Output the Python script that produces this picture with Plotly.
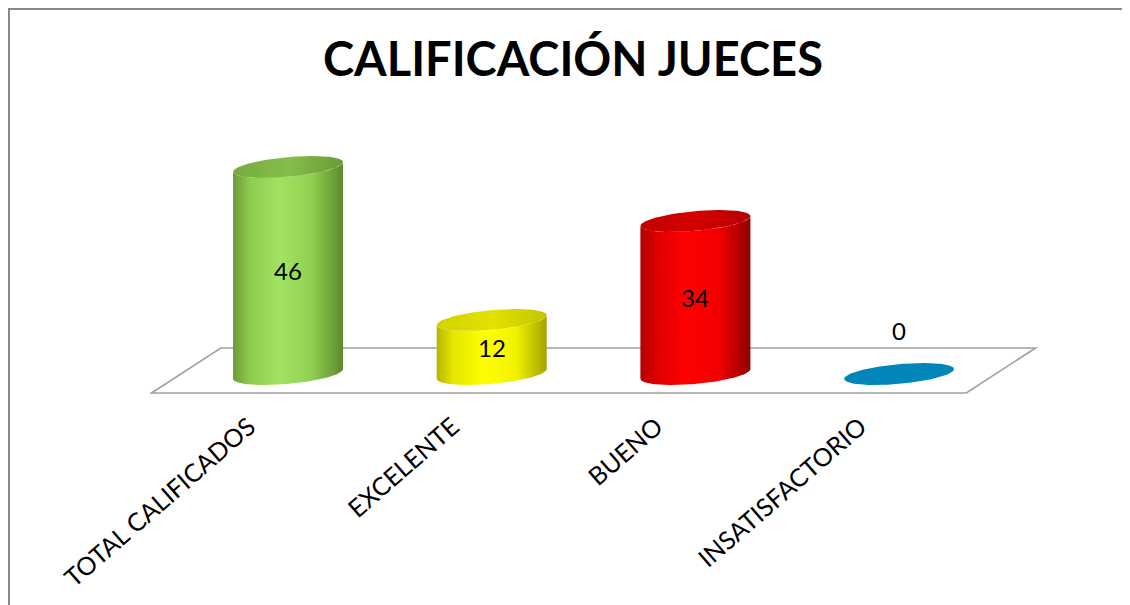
import numpy as np
import plotly.graph_objects as go

# ---------------- data ----------------
categories = ["TOTAL CALIFICADOS", "EXCELENTE", "BUENO", "INSATISFACTORIO"]
values = [46, 12, 34, 0]
title_text = "CALIFICACIÓN JUECES"

# ---------------- styles ----------------
body_scales = [
    [[0, "#6c9c36"], [0.15, "#8ccb4e"], [0.42, "#a2e363"], [0.72, "#8fd051"], [1, "#5c8a2b"]],
    [[0, "#b5b500"], [0.15, "#e6e600"], [0.42, "#ffff00"], [0.72, "#f2f200"], [1, "#a3a300"]],
    [[0, "#b30000"], [0.15, "#e00000"], [0.42, "#ff0000"], [0.72, "#f20000"], [1, "#8e0000"]],
    [[0, "#0086b8"], [1, "#0086b8"]],
]
top_scales = [
    [[0, "#76aa40"], [0.5, "#86be4b"], [1, "#6a9a36"]],
    [[0, "#d2d200"], [0.5, "#e2e200"], [1, "#c4c400"]],
    [[0, "#c20000"], [0.5, "#d40000"], [1, "#b40000"]],
    [[0, "#0086b8"], [1, "#0086b8"]],
]

FONT = "Lato"
W = 0.27    # half width of a cylinder (category units)
B = 2.2     # vertical semi-axis of ellipses (value units)
S = 4.0     # perspective shear (value units per category unit)
SKEW = 0.17  # floor skew (category units)

X_RANGE = [-1.3746, 4.1728]
Y_RANGE = [-53.11, 81.33]


def ellipse_pts(cx, cy, t):
    x = cx + W * np.cos(t)
    y = cy + B * np.sin(t) + S * W * np.cos(t)
    return x, y


fig = go.Figure()

n = len(categories)
for i, v in enumerate(values):
    if v > 0:
        t_front = np.linspace(np.pi, 2 * np.pi, 80)
        bx, by = ellipse_pts(i, 0, t_front)
        tx, ty = ellipse_pts(i, v, t_front[::-1])
        xs = np.concatenate([bx, tx, bx[:1]])
        ys = np.concatenate([by, ty, by[:1]])
        fig.add_trace(go.Scatter(
            x=xs, y=ys, mode="lines", fill="toself",
            line=dict(width=0, color="rgba(0,0,0,0)"),
            fillgradient=dict(type="horizontal", colorscale=body_scales[i]),
            hoverinfo="skip", showlegend=False))
    t_all = np.linspace(0, 2 * np.pi, 160)
    ex, ey = ellipse_pts(i, v, t_all)
    fig.add_trace(go.Scatter(
        x=ex, y=ey, mode="lines", fill="toself",
        line=dict(width=0, color="rgba(0,0,0,0)"),
        fillgradient=dict(type="horizontal", colorscale=top_scales[i]),
        hoverinfo="skip", showlegend=False))

# data labels
for i, v in enumerate(values):
    if v > 0:
        fig.add_annotation(x=i, y=v / 2, text=str(v), showarrow=False,
                           font=dict(family=FONT, size=24, color="#000000"))
    else:
        fig.add_annotation(x=i, y=v, yshift=44, text=str(v), showarrow=False,
                           font=dict(family=FONT, size=24, color="#000000"))

# floor
floor_top = 5.78
floor_bot = -4.22
left = -0.5
right = n - 0.5
path = (f"M {left + SKEW},{floor_top} L {right + SKEW},{floor_top} "
        f"L {right - SKEW},{floor_bot} L {left - SKEW},{floor_bot} Z")
fig.add_shape(type="path", path=path, xref="x", yref="y", layer="below",
              line=dict(color="#a0a0a0", width=1.6), fillcolor="white")

# outer border
fig.add_shape(type="rect", xref="paper", yref="paper",
              x0=1 / 1130, x1=1.02, y0=-0.02, y1=1 - 1 / 605,
              line=dict(color="#878787", width=2), fillcolor="rgba(0,0,0,0)")

# title
fig.add_annotation(xref="paper", yref="paper", x=565 / 1130, y=1 - 50 / 605,
                   xanchor="center", yanchor="middle", showarrow=False,
                   text=f"<b>{title_text}</b>",
                   font=dict(family=FONT, size=47, color="#000000"))

fig.update_layout(
    width=1130, height=605,
    margin=dict(l=0, r=0, t=0, b=0),
    paper_bgcolor="white", plot_bgcolor="white",
    showlegend=False,
    xaxis=dict(range=X_RANGE, domain=[0, 1], anchor="free", position=0.3416,
               tickmode="array", tickvals=list(range(n)), ticktext=categories,
               tickangle=-41, ticklabelshift=-39, ticks="",
               showgrid=False, zeroline=False, showline=False,
               tickfont=dict(family=FONT, size=25, color="#000000"),
               fixedrange=True),
    yaxis=dict(range=Y_RANGE, domain=[0, 1], visible=False, showgrid=False,
               zeroline=False, fixedrange=True),
)

fig.write_html("out.html")
